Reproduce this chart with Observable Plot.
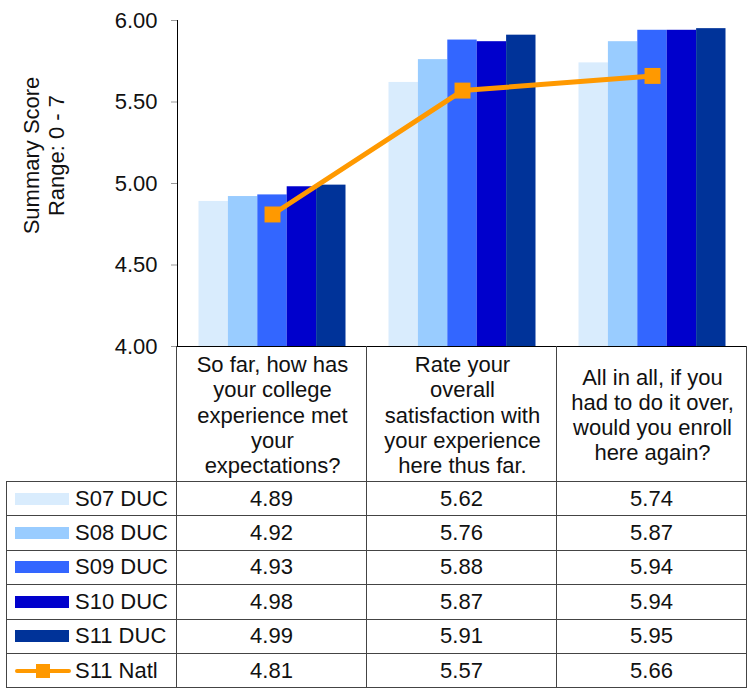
<!DOCTYPE html>
<html>
<head>
<meta charset="utf-8">
<script src="https://cdn.jsdelivr.net/npm/d3@7"></script>
<script src="https://cdn.jsdelivr.net/npm/@observablehq/plot@0.6"></script>
<style>
  html, body { margin: 0; padding: 0; background: #fff; }
  #wrap { position: relative; width: 751px; height: 694px; overflow: hidden; font-family: "Liberation Sans", Arial, sans-serif; }
  #chart { position: absolute; left: 0; top: 0; }
  #table { position: absolute; left: 6px; top: 346px; display: grid;
           grid-template-columns: 171px 190px 190px 190px;
           grid-template-rows: 136px repeat(6, 34.4px);
           font-size: 22px; color: #111; z-index: 2; }
  #table > div { box-sizing: border-box; border-right: 1px solid #444; border-bottom: 1px solid #444;
                 display: flex; align-items: center; justify-content: center; }
  #table > div.first { border-left: 1px solid #444; justify-content: flex-start; padding-left: 8px; }
  #table > div.corner { border-left: none; }
  #table > div.head { border-bottom: 1px solid #444; }
  .sw { width: 54px; height: 12px; margin-right: 6px; flex: none; }
  .lsw { position: relative; width: 56px; height: 14px; margin-right: 4px; flex: none; }
  .lsw .ln { position: absolute; left: 0; right: 0; top: 5px; height: 4px; background: #FF9900; border-radius: 2px; }
  .lsw .sq { position: absolute; left: 21px; top: 0; width: 14px; height: 14px; background: #FF9900; }
</style>
</head>
<body>
<div id="wrap">
  <div id="chart"></div>
  <div id="table"></div>
</div>
<script>
// ---------- data ----------
const categories = [
  "So far, how has your college experience met your expectations?",
  "Rate your overall satisfaction with your experience here thus far.",
  "All in all, if you had to do it over, would you enroll here again?"
];
const categoryLabels = [
  "So far, how has\nyour college\nexperience met\nyour\nexpectations?",
  "Rate your\noverall\nsatisfaction with\nyour experience\nhere thus far.",
  "All in all, if you\nhad to do it over,\nwould you enroll\nhere again?"
];
const series = ["S07 DUC", "S08 DUC", "S09 DUC", "S10 DUC", "S11 DUC"];
const s07 = [4.89, 5.62, 5.74];
const s08 = [4.92, 5.76, 5.87];
const s09 = [4.93, 5.88, 5.94];
const s10 = [4.98, 5.87, 5.94];
const s11 = [4.99, 5.91, 5.95];
const natlName = "S11 Natl";
const natl = [4.81, 5.57, 5.66];
const seriesColors = ["#D9ECFD", "#99CCFF", "#3366FF", "#0000CC", "#003399"];
const natlColor = "#FF9900";
const yTicks = [4.0, 4.5, 5.0, 5.5, 6.0];
const yTitle = "Summary Score\nRange: 0 - 7";

// ---------- build ----------
const seriesValues = [s07, s08, s09, s10, s11];
const barData = series.map((s, i) => categories.map((c, j) => ({series: s, category: c, value: seriesValues[i][j]})));
const lineData = categories.map((c, j) => ({category: c, value: natl[j]}));

const W = 751, H = 482;
const mL = 177, mR = 4, mT = 20, mB = 136;
const band = (W - mL - mR) / categories.length;
const barW = 29.4;
const inset = (band - barW) / 2;
const font = "Liberation Sans, Arial, sans-serif";

const marks = [];
barData.forEach((rows, i) => {
  marks.push(Plot.barY(rows, {
    x: "category", y1: 4, y2: "value", fill: seriesColors[i],
    insetLeft: inset, insetRight: inset, dx: (i - 2) * barW
  }));
});
marks.push(
  Plot.axisY({ticks: yTicks, tickFormat: d3.format(".2f"), tickSize: 6, tickPadding: 14,
               fontSize: 22, stroke: "#999", fill: "#111", label: null}),
  Plot.axisX({tickSize: 0, tickPadding: 68, lineAnchor: "middle", fontSize: 22, lineHeight: 1.14,
              fill: "#111", tickFormat: (d) => categoryLabels[categories.indexOf(d)], label: null}),
  Plot.frame({anchor: "left", stroke: "#000"}),
  Plot.ruleY([4], {stroke: "#000"}),
  Plot.line(lineData, {x: "category", y: "value", stroke: natlColor, strokeWidth: 5}),
  Plot.dot(lineData, {x: "category", y: "value", symbol: "square", r: 9, fill: natlColor, stroke: null}),
  Plot.text([yTitle], {text: d => d, frameAnchor: "left", textAnchor: "middle", lineAnchor: "middle",
                      rotate: -90, dx: -134, dy: -28, fontSize: 22, lineHeight: 1.14, fill: "#111"})
);

const chart = Plot.plot({
  width: W, height: H,
  marginLeft: mL, marginRight: mR, marginTop: mT, marginBottom: mB,
  style: {background: "transparent", fontFamily: font, overflow: "visible"},
  x: {type: "band", domain: categories, padding: 0, axis: null},
  y: {domain: [4, 6], axis: null},
  marks
});
document.getElementById("chart").appendChild(chart);

// ---------- data table ----------
const table = document.getElementById("table");
function cell(cls, html) {
  const d = document.createElement("div");
  d.className = cls;
  if (html instanceof Node) d.appendChild(html); else if (html != null) d.textContent = html;
  table.appendChild(d);
  return d;
}
cell("corner head", null);
categories.forEach(() => cell("head", null));
series.forEach((s, i) => {
  const lab = document.createElement("div");
  lab.style.display = "flex"; lab.style.alignItems = "center";
  const sw = document.createElement("span"); sw.className = "sw"; sw.style.background = seriesColors[i];
  const t = document.createElement("span"); t.textContent = s;
  lab.appendChild(sw); lab.appendChild(t);
  cell("first", lab);
  seriesValues[i].forEach(v => cell("", d3.format(".2f")(v)));
});
{
  const lab = document.createElement("div");
  lab.style.display = "flex"; lab.style.alignItems = "center";
  const sw = document.createElement("span"); sw.className = "lsw";
  sw.innerHTML = '<span class="ln"></span><span class="sq"></span>';
  const t = document.createElement("span"); t.textContent = natlName;
  lab.appendChild(sw); lab.appendChild(t);
  cell("first", lab);
  natl.forEach(v => cell("", d3.format(".2f")(v)));
}
</script>
</body>
</html>
